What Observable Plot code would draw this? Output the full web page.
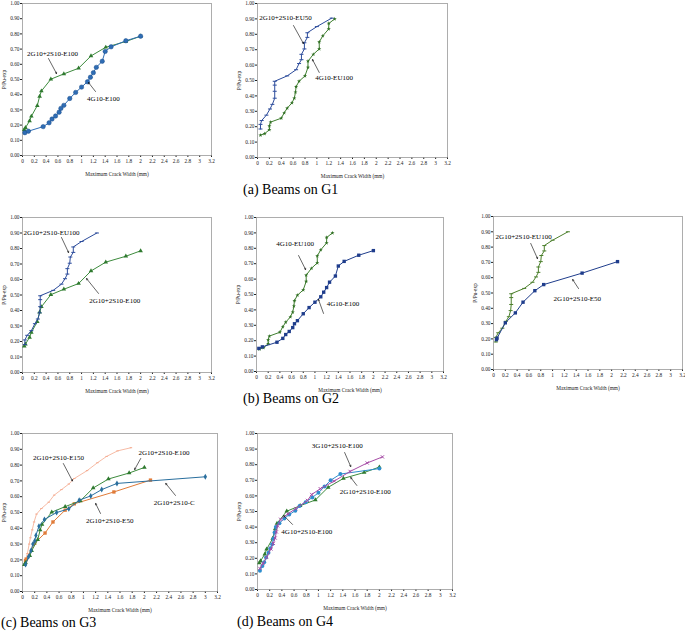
<!DOCTYPE html>
<html>
<head>
<meta charset="utf-8">
<script src="https://cdn.jsdelivr.net/npm/d3@7"></script>
<script src="https://cdn.jsdelivr.net/npm/@observablehq/plot@0.6"></script>
<style>
  html, body { margin: 0; padding: 0; background: #fff; }
  #fig { position: relative; width: 685px; height: 631px; overflow: hidden; background: #fff; }
  .cap { position: absolute; font-family: "Liberation Serif", "Times New Roman", "DejaVu Serif", serif; font-size: 14px; line-height: 14px; color: #000; white-space: nowrap; }
  #fig svg, #fig svg text { font-family: "Liberation Serif", "Times New Roman", "DejaVu Serif", serif !important; }
</style>
</head>
<body>
<div id="fig"></div>
<script>
// ---------- tick values / labels ----------
const xTicks = [0,0.2,0.4,0.6,0.8,1,1.2,1.4,1.6,1.8,2,2.2,2.4,2.6,2.8,3,3.2];
const xTickLabels = ["0","0.2","0.4","0.6","0.8","1","1.2","1.4","1.6","1.8","2","2.2","2.4","2.6","2.8","3","3.2"];
const yTicks = [0,0.1,0.2,0.3,0.4,0.5,0.6,0.7,0.8,0.9,1.0];
const yTickLabels = ["0.00","0.10","0.20","0.30","0.40","0.50","0.60","0.70","0.80","0.90","1.00"];
const xLabel = "Maximum Crack Width (mm)";
const yLabel = "P/Pu-exp";

// ---------- series (crack width mm, P/Pu-exp) ----------
const e100X = [0.03,0.05,0.12,0.15,0.25,0.29,0.32,0.48,0.7,0.95,1.16,1.41,1.75,2.0];
const e100Y = [0.17,0.183,0.227,0.258,0.328,0.389,0.424,0.502,0.537,0.574,0.655,0.712,0.75,0.785];

const g4e100X = [0.04,0.1,0.35,0.45,0.5,0.56,0.62,0.65,0.7,0.8,0.9,1.0,1.1,1.15,1.2,1.25,1.35,1.4,1.5,1.75,2.0];
const g4e100Y = [0.15,0.16,0.19,0.215,0.24,0.26,0.285,0.31,0.33,0.375,0.415,0.45,0.485,0.515,0.545,0.58,0.62,0.685,0.715,0.755,0.785];

const eu50X = [0.05,0.05,0.07,0.15,0.21,0.25,0.29,0.29,0.29,0.29,0.5,0.65,0.7,0.74,0.74,0.79,0.79,0.84,0.84,1.0,1.25];
const eu50Y = [0.185,0.215,0.24,0.275,0.315,0.345,0.385,0.43,0.47,0.495,0.53,0.57,0.61,0.635,0.67,0.705,0.745,0.78,0.81,0.85,0.905];

const g4eu100X = [0.05,0.12,0.2,0.2,0.22,0.4,0.45,0.5,0.58,0.62,0.64,0.65,0.7,0.8,0.85,0.85,0.94,1.04,1.04,1.1,1.2,1.2,1.3];
const g4eu100Y = [0.145,0.155,0.18,0.205,0.23,0.255,0.29,0.32,0.355,0.385,0.425,0.46,0.495,0.53,0.585,0.625,0.67,0.705,0.75,0.79,0.835,0.87,0.9];

const eu100X = [0.04,0.04,0.08,0.15,0.21,0.26,0.29,0.3,0.3,0.3,0.52,0.66,0.72,0.76,0.76,0.8,0.81,0.86,0.86,1.0,1.26];
const eu100Y = [0.18,0.21,0.24,0.27,0.315,0.345,0.385,0.425,0.47,0.495,0.53,0.57,0.605,0.635,0.67,0.705,0.745,0.775,0.81,0.845,0.9];

const e50X = [0.05,0.06,0.2,0.37,0.5,0.7,0.85,1.5,2.1];
const e50Y = [0.195,0.205,0.305,0.37,0.44,0.515,0.555,0.63,0.705];

const e150X = [0.03,0.05,0.08,0.11,0.13,0.16,0.19,0.23,0.31,0.43,0.52,0.64,0.76,0.85,1.06,1.23,1.38,1.56,1.78];
const e150Y = [0.165,0.2,0.24,0.3,0.34,0.39,0.44,0.49,0.525,0.565,0.61,0.645,0.68,0.715,0.765,0.815,0.855,0.89,0.91];

const cX = [0.05,0.1,0.14,0.17,0.2,0.22,0.27,0.36,0.56,0.76,0.93,1.12,1.3,1.55,3.0];
const cY = [0.17,0.22,0.26,0.3,0.32,0.355,0.413,0.456,0.5,0.523,0.578,0.605,0.645,0.684,0.726];

const g3e100X = [0.04,0.09,0.15,0.22,0.26,0.29,0.31,0.33,0.38,0.5,0.63,0.82,0.89,1.03,1.26,1.52,1.8,2.05];
const g3e100Y = [0.135,0.167,0.206,0.26,0.296,0.33,0.369,0.408,0.45,0.485,0.519,0.571,0.609,0.646,0.695,0.757,0.811,0.85];

const g4s2e100X = [0.04,0.08,0.11,0.14,0.18,0.21,0.24,0.26,0.28,0.3,0.36,0.44,0.52,0.62,0.69,0.79,0.9,1.0,1.1,1.2,1.36,2.0];
const g4s2e100Y = [0.12,0.15,0.175,0.205,0.235,0.265,0.29,0.325,0.365,0.4,0.425,0.455,0.48,0.505,0.535,0.56,0.59,0.62,0.66,0.7,0.74,0.775];

// ---------- marker styles ----------
const dashSymbol = { draw(ctx, size) { const r = Math.sqrt(size / Math.PI); ctx.moveTo(-r, 0); ctx.lineTo(r, 0); } };
const st = {
  greenTri:  { stroke: "#3d8b3d", symbol: "triangle", fill: "#2f7a2f", r: 1.7 },
  blueCirc:  { stroke: "#2f6db5", symbol: "circle", fill: "#2f6db5", dotStroke: "#1d4f8a", r: 2.2 },
  navyDash:  { stroke: "#2b4b9b", symbol: dashSymbol, dotStroke: "#2b4b9b", r: 2.0 },
  greenStar: { stroke: "#3f7f2f", symbol: "star", fill: "#2f6f22", r: 1.3 },
  navySq:    { stroke: "#1f3d8c", symbol: "square", fill: "#1f3d8c", r: 1.9 },
  greenDash: { stroke: "#4b7f2b", symbol: dashSymbol, dotStroke: "#4b7f2b", r: 2.0 },
  pinkDash:  { stroke: "#f4a98e", symbol: dashSymbol, dotStroke: "#f4a98e", r: 1.2, width: 0.8 },
  tealDiam:  { stroke: "#2a6f9e", symbol: "diamond", fill: "#2a6f9e", r: 1.8 },
  orangeSq:  { stroke: "#e07b39", symbol: "square", fill: "#e07b39", r: 1.9 },
  purpleX:   { stroke: "#a64ca6", symbol: "times", dotStroke: "#a64ca6", r: 1.6 },
  skyCirc:   { stroke: "#2e8ece", symbol: "circle", fill: "#2e8ece", r: 2.0 }
};

// ---------- panels ----------
const panels = [
  { box: [22, 211, 3, 155],
    series: [[e100X, e100Y, "greenTri"], [g4e100X, g4e100Y, "blueCirc"]],
    notes: [
      { text: "2G10+2S10-E100", tx: 0.51, ty: 0.671, x1: 0.44, y1: 0.638, x2: 0.576, y2: 0.539 },
      { text: "4G10-E100", tx: 1.37, ty: 0.375, x1: 1.236, y1: 0.421, x2: 1.117, y2: 0.48 }
    ] },
  { box: [257, 447, 3, 157],
    series: [[g4eu100X, g4eu100Y, "greenStar"], [eu50X, eu50Y, "navyDash"]],
    notes: [
      { text: "2G10+2S10-EU50", tx: 0.47, ty: 0.909, x1: 0.606, y1: 0.857, x2: 0.774, y2: 0.74 },
      { text: "4G10-EU100", tx: 1.29, ty: 0.519, x1: 1.04, y1: 0.552, x2: 0.926, y2: 0.636 }
    ] },
  { box: [22, 211, 217, 372],
    series: [[e100X, e100Y, "greenTri"], [eu100X, eu100Y, "navyDash"]],
    notes: [
      { text: "2G10+2S10-EU100", tx: 0.49, ty: 0.903, x1: 0.66, y1: 0.871, x2: 0.78, y2: 0.774 },
      { text: "2G10+2S10-E100", tx: 1.56, ty: 0.465, x1: 1.287, y1: 0.51, x2: 1.084, y2: 0.606 }
    ] },
  { box: [256, 443, 217, 371],
    series: [[g4eu100X, g4eu100Y, "greenStar"], [g4e100X, g4e100Y, "navySq"]],
    notes: [
      { text: "4G10-EU100", tx: 0.66, ty: 0.831, x1: 0.72, y1: 0.753, x2: 0.84, y2: 0.662 },
      { text: "4G10-E100", tx: 1.48, ty: 0.442, x1: 1.147, y1: 0.377, x2: 1.06, y2: 0.468 }
    ] },
  { box: [493, 682, 216, 369],
    series: [[eu100X, eu100Y, "greenDash"], [e50X, e50Y, "navySq"]],
    notes: [
      { text: "2G10+2S10-EU100", tx: 0.51, ty: 0.869, x1: 0.63, y1: 0.824, x2: 0.745, y2: 0.725 },
      { text: "2G10+2S10-E50", tx: 1.42, ty: 0.464, x1: 1.44, y1: 0.529, x2: 1.34, y2: 0.588 }
    ] },
  { box: [22, 217, 433, 591],
    series: [[e150X, e150Y, "pinkDash"], [e50X, e50Y, "orangeSq"], [e100X, e100Y, "greenTri"], [cX, cY, "tealDiam"]],
    notes: [
      { text: "2G10+2S10-E150", tx: 0.59, ty: 0.848, x1: 0.67, y1: 0.81, x2: 0.82, y2: 0.70 },
      { text: "2G10+2S10-E100", tx: 2.32, ty: 0.88, x1: 1.94, y1: 0.842, x2: 1.84, y2: 0.772 },
      { text: "2G10+2S10-C", tx: 2.49, ty: 0.563, x1: 2.51, y1: 0.608, x2: 2.35, y2: 0.684 },
      { text: "2G10+2S10-E50", tx: 1.43, ty: 0.449, x1: 1.28, y1: 0.494, x2: 1.20, y2: 0.557 }
    ] },
  { box: [257, 452, 433, 589],
    series: [[e100X, e100Y, "greenTri"], [g4s2e100X, g4s2e100Y, "skyCirc"], [g3e100X, g3e100Y, "purpleX"]],
    notes: [
      { text: "3G10+2S10-E100", tx: 1.31, ty: 0.923, x1: 1.43, y1: 0.878, x2: 1.53, y2: 0.788 },
      { text: "2G10+2S10-E100", tx: 1.77, ty: 0.628, x1: 1.63, y1: 0.667, x2: 1.53, y2: 0.718 },
      { text: "4G10+2S10-E100", tx: 0.81, ty: 0.372, x1: 0.575, y1: 0.417, x2: 0.43, y2: 0.474 }
    ] }
];

const captions = [
  { text: "(a)  Beams on G1", left: 243, top: 183 },
  { text: "(b)  Beams on G2", left: 243, top: 392 },
  { text: "(c) Beams on G3", left: 1, top: 616 },
  { text: "(d) Beams on G4", left: 237, top: 615 }
];

const fig = document.getElementById("fig");
const ml = 24, mr = 4, mt = 4, mb = 24;
const serif = "'Liberation Serif', 'Times New Roman', 'DejaVu Serif', serif";

for (const p of panels) {
  const [x0, x1, y0, y1] = p.box;
  const marks = [Plot.frame({ stroke: "#999", strokeWidth: 0.8 })];
  for (const [xs, ys, key] of p.series) {
    const s = st[key];
    const rows = xs.map((x, i) => ({ x, y: ys[i] }));
    marks.push(Plot.line(rows, { x: "x", y: "y", stroke: s.stroke, strokeWidth: s.width || 1 }));
    const d = { x: "x", y: "y", r: s.r };
    if (s.fill) { d.fill = s.fill; if (s.dotStroke) { d.stroke = s.dotStroke; d.strokeWidth = 0.5; } }
    else { d.stroke = s.dotStroke; d.strokeWidth = 1; d.fill = "none"; }
    marks.push(Plot.dot(rows, { ...d, symbol: s.symbol }));
  }
  marks.push(Plot.arrow(p.notes, { x1: "x1", y1: "y1", x2: "x2", y2: "y2", stroke: "#000", strokeWidth: 0.6, headLength: 3.5 }));
  marks.push(Plot.text(p.notes, { x: "tx", y: "ty", text: "text", fontSize: 7, fill: "#000", fontFamily: serif }));

  const chart = Plot.plot({
    width: x1 - x0 + ml + mr,
    height: y1 - y0 + mt + mb,
    marginLeft: ml, marginRight: mr, marginTop: mt, marginBottom: mb,
    style: { fontFamily: serif, fontSize: "5.3px", background: "transparent", overflow: "visible", color: "#222" },
    x: { domain: [0, 3.2], ticks: xTicks, tickFormat: d => xTickLabels[xTicks.indexOf(d)], tickSize: 2, tickPadding: 2,
         label: xLabel, labelAnchor: "center", labelOffset: 20, labelArrow: "none" },
    y: { domain: [0, 1], ticks: yTicks, tickFormat: d => yTickLabels[yTicks.indexOf(d)], tickSize: 2, tickPadding: 1,
         label: yLabel, labelAnchor: "center", labelOffset: 20, labelArrow: "none" },
    marks
  });
  chart.style.position = "absolute";
  chart.style.left = (x0 - ml) + "px";
  chart.style.top = (y0 - mt) + "px";
  fig.appendChild(chart);
}

for (const c of captions) {
  const div = document.createElement("div");
  div.className = "cap";
  div.textContent = c.text;
  div.style.left = c.left + "px";
  div.style.top = c.top + "px";
  fig.appendChild(div);
}
</script>
</body>
</html>
